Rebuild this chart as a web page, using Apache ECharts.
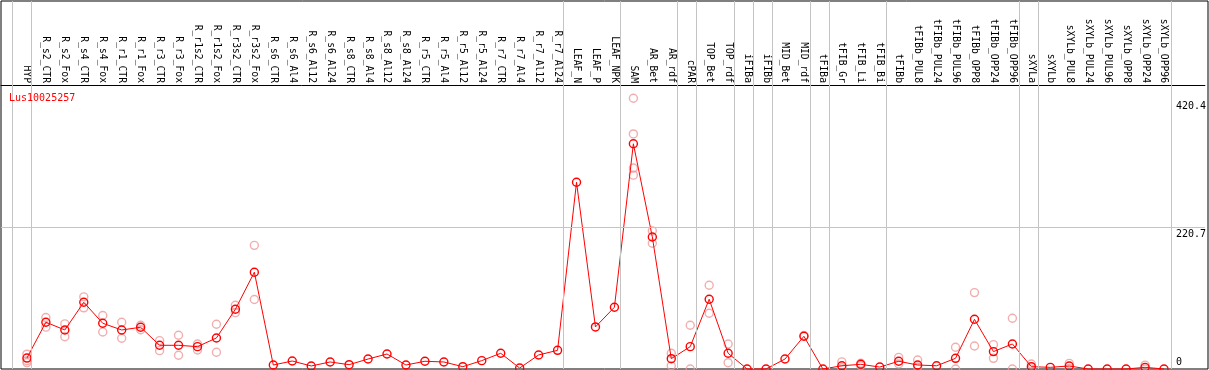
<!DOCTYPE html>
<html>
<head>
<meta charset="utf-8">
<script src="https://cdn.jsdelivr.net/npm/echarts@6/dist/echarts.min.js"></script>
<style>
html,body{margin:0;padding:0;background:#fff;}
#chart{width:1209px;height:370px;}
</style>
</head>
<body>
<div id="chart"></div>
<script>
const geneName = 'Lus10025257';
const categories = ['HYP','R_s2_CTR','R_s2_Fox','R_s4_CTR','R_s4_Fox','R_r1_CTR','R_r1_Fox','R_r3_CTR','R_r3_Fox','R_r1s2_CTR','R_r1s2_Fox','R_r3s2_CTR','R_r3s2_Fox','R_s6_CTR','R_s6_Al4','R_s6_Al12','R_s6_Al24','R_s8_CTR','R_s8_Al4','R_s8_Al12','R_s8_Al24','R_r5_CTR','R_r5_Al4','R_r5_Al12','R_r5_Al24','R_r7_CTR','R_r7_Al4','R_r7_Al12','R_r7_Al24','LEAF_N','LEAF_P','LEAF_NPK','SAM','AR_Bet','AR_rdf','cPAR','TOP_Bet','TOP_rdf','iFIBa','iFIBb','MID_Bet','MID_rdf','tFIBa','tFIB_Gr','tFIB_Li','tFIB_Bi','tFIBb','tFIBb_PUL8','tFIBb_PUL24','tFIBb_PUL96','tFIBb_OPP8','tFIBb_OPP24','tFIBb_OPP96','sXYLa','sXYLb','sXYLb_PUL8','sXYLb_PUL24','sXYLb_PUL96','sXYLb_OPP8','sXYLb_OPP24','sXYLb_OPP96'];
const meanValues = [17,72.6,60.6,103.6,71,60.6,64.8,36.8,36.8,34.7,48.2,92.8,150.3,6.2,12.4,4.7,10.9,6.7,15.5,23.3,6.2,12,10.9,3.6,13,24.4,1.5,21.8,29,290,65.3,95.9,349.7,205,16,34.7,108.3,24.4,0,0,15.5,50.8,0,5,7.3,3,12,6.2,5,16.6,77.2,27,38.9,3.6,2.6,4.7,0,0,0,2.6,0];
const replicates = [[23,13,10],[80,65],[70,50],[112,95],[83,57.5],[72.6,47.7],[68,61],[44,28.5],[52.4,21.3],[38.9,29.5],[69.5,26],[99,87.5],[192,108],[],[],[],[],[],[],[],[],[],[],[],[],[],[],[],[],[],[],[],[420.4,365,312,301],[214.5,195.3],[24.4,5],[68,0],[130,86.6],[38.9,9.8],[],[],[],[52],[],[11,2],[9,5],[],[18,7.8],[14,3],[],[33.7,0],[118.6,35.7],[37.8,16.6],[78.8,0],[7.8,0],[],[8.8,1],[],[],[],[6,0],[]];
const yTickValues = [0, 220.7, 420.4];
const gridLineValue = 220.7;
const groupEnds = [-1,0,28,31,34,35,37,38,39,41,42,45,52,53,60];

const FONT = 'DejaVu Sans Mono';
const xMin = -26/19;
const xMax = xMin + 1207/19;

const meanData = meanValues.map((v,i)=>[i,v]);
const repData = [];
replicates.forEach((r,i)=>r.forEach(v=>repData.push([i,v])));

const chart = echarts.init(document.getElementById('chart'), null, {renderer:'canvas'});
chart.setOption({
  animation:false,
  backgroundColor:'#fff',
  title:{text:geneName,left:4,top:88,textStyle:{color:'#ff0000',fontFamily:FONT,fontSize:10,fontWeight:'normal'}},
  grid:[
    {left:1,right:1,top:85,bottom:1},
    {left:1,right:1,top:1,bottom:1,show:true,borderColor:'#000',borderWidth:1,backgroundColor:'transparent'}
  ],
  xAxis:[
    {type:'value',gridIndex:0,position:'top',min:xMin,max:xMax,
     axisLine:{show:true,onZero:false,lineStyle:{color:'#000',width:1}},
     axisTick:{show:false},splitLine:{show:false},
     axisLabel:{customValues:categories.map((c,i)=>i),formatter:v=>categories[Math.round(v)],rotate:90,margin:2,
       fontFamily:FONT,fontSize:9.7,color:'#000'}},
    {type:'value',gridIndex:1,min:xMin,max:xMax,show:false}
  ],
  yAxis:[
    {type:'value',gridIndex:0,position:'right',min:0,max:441,
     axisLine:{show:false},axisTick:{show:false},splitLine:{show:false},
     axisLabel:{inside:true,margin:29,align:'left',customValues:yTickValues,fontFamily:FONT,fontSize:10,color:'#000',
       formatter:v=>v===0?'{b|0}':'{t|'+v+'}',
       rich:{t:{padding:[16,0,0,0],fontFamily:FONT,fontSize:10,color:'#000'},b:{padding:[0,0,14,0],fontFamily:FONT,fontSize:10,color:'#000'}}}},
    {type:'value',gridIndex:1,min:0,max:1,show:false}
  ],
  series:[
    {type:'line',xAxisIndex:1,yAxisIndex:1,data:[],silent:true,z:1,
     markLine:{silent:true,symbol:'none',animation:false,label:{show:false},
       lineStyle:{color:'#c4c4c4',width:1,type:'solid'},
       data:groupEnds.map(g=>({xAxis:g+0.195}))}},
    {type:'scatter',xAxisIndex:0,yAxisIndex:0,data:repData,symbol:'circle',symbolSize:8,silent:true,z:3,
     itemStyle:{color:'transparent',borderColor:'#ee9a9a',borderWidth:1.4}},
    {type:'line',xAxisIndex:0,yAxisIndex:0,data:meanData,symbol:'circle',symbolSize:8,showSymbol:true,z:4,clip:false,
     lineStyle:{color:'#ff0000',width:1},
     itemStyle:{color:'transparent',borderColor:'#ff0000',borderWidth:1.4},
     markLine:{silent:true,symbol:'none',animation:false,label:{show:false},
       lineStyle:{color:'#c4c4c4',width:1,type:'solid'},
       data:[{yAxis:gridLineValue}]}}
  ]
});
</script>
</body>
</html>
